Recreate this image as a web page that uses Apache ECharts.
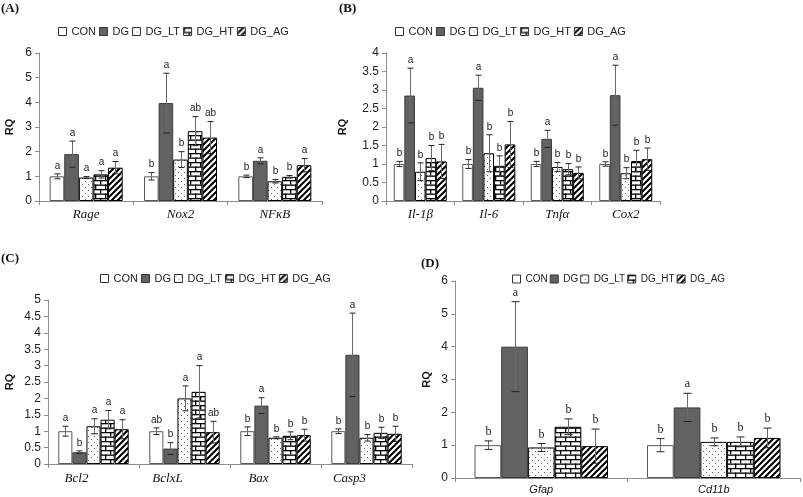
<!DOCTYPE html>
<html><head><meta charset="utf-8">
<script src="https://cdn.jsdelivr.net/npm/echarts@6/dist/echarts.min.js"></script>
<style>html,body{margin:0;padding:0;background:#fff}#c{width:803px;height:497px}</style>
</head><body><div id="c"></div>
<script>
// ---------- DATA ----------
const groups = ['CON','DG','DG_LT','DG_HT','DG_AG'];

const catsA = ['Rage','Nox2','NFκB'];
const meansA = [[1.0,1.0,1.0],[1.9,3.97,1.63],[0.95,1.68,0.8],[1.08,2.83,0.98],[1.35,2.57,1.45]];
const errA   = [[0.1,0.15,0.05],[0.53,1.21,0.12],[0.04,0.32,0.07],[0.15,0.59,0.05],[0.25,0.65,0.27]];
const lettersA = [['a','b','b'],['a','a','a'],['a','b','b'],['a','ab','b'],['a','ab','a']];
const ticksA = {max:6, interval:1};

const catsB = ['Il-1β','Il-6','Tnfα','Cox2'];
const meansB = [[1,1,1,1],[2.85,3.06,1.68,2.86],[0.79,1.29,0.92,0.75],[1.16,0.95,0.86,1.08],[1.07,1.53,0.76,1.13]];
const errB   = [[0.07,0.12,0.07,0.06],[0.74,0.34,0.23,0.81],[0.24,0.5,0.12,0.15],[0.34,0.27,0.15,0.29],[0.46,0.62,0.16,0.3]];
const lettersB = [['b','b','b','b'],['a','a','a','a'],['b','b','b','b'],['b','b','b','b'],['b','b','b','b']];
const ticksB = {max:4, interval:0.5};

const catsC = ['Bcl2','BclxL','Bax','Casp3'];
const meansC = [[1,1,1,1],[0.36,0.47,1.78,3.33],[1.15,2.0,0.8,0.8],[1.35,2.2,0.86,0.95],[1.06,0.97,0.88,0.92]];
const errC   = [[0.15,0.1,0.13,0.07],[0.04,0.18,0.24,1.27],[0.23,0.38,0.03,0.1],[0.28,0.8,0.12,0.17],[0.29,0.33,0.18,0.23]];
const lettersC = [['a','ab','b','b'],['b','b','a','a'],['a','a','b','b'],['a','a','b','b'],['a','ab','b','b']];
const ticksC = {max:5, interval:0.5};

const catsD = ['Gfap','Cd11b'];
const meansD = [[1,1],[4.0,2.15],[0.93,1.1],[1.56,1.1],[0.97,1.22]];
const errD   = [[0.13,0.2],[1.37,0.43],[0.12,0.12],[0.24,0.15],[0.52,0.3]];
const lettersD = [['b','b'],['a','a'],['b','b'],['b','b'],['b','b']];
const ticksD = {max:6, interval:1};

// ---------- PATTERNS ----------
function mk(w,h,draw){const c=document.createElement('canvas');c.width=w;c.height=h;const g=c.getContext('2d');g.fillStyle='#fff';g.fillRect(0,0,w,h);draw(g);return c;}
const dots = mk(6,6,g=>{g.fillStyle='#666';g.fillRect(1,1,1,1);g.fillRect(4,4,1,1);});
const brick = mk(10,9,g=>{g.fillStyle='#000';g.fillRect(0,0,10,1.3);g.fillRect(0,4.5,10,1.3);g.fillRect(0,0,1.3,4.5);g.fillRect(5,4.5,1.3,4.5);});
const stripes = mk(6,6,g=>{g.strokeStyle='#000';g.lineWidth=2;g.beginPath();
  g.moveTo(-1,7);g.lineTo(7,-1);g.moveTo(-4,4);g.lineTo(4,-4);g.moveTo(2,10);g.lineTo(10,2);g.stroke();});

const styles = [
  {color:'#ffffff', borderColor:'#595959', borderWidth:1},
  {color:'#626262', borderColor:'#3a3a3a', borderWidth:1},
  {color:{image:dots, repeat:'repeat'}, borderColor:'#000', borderWidth:1},
  {color:{image:brick, repeat:'repeat'}, borderColor:'#000', borderWidth:1},
  {color:{image:stripes, repeat:'repeat'}, borderColor:'#000', borderWidth:1}
];

const GAP = 0.226;
const panels = [
  {cats:catsA, means:meansA, err:errA, letters:lettersA, ticks:ticksA,
   grid:{left:39, top:53, width:283, height:148}, nameGap:24, legend:{left:58, top:26, fs:11, gap:3},
   xl:{fontFamily:'Liberation Serif', fontStyle:'italic', fontSize:13, margin:7}, shift:0,
   lf:{fontFamily:'Liberation Sans', fontSize:10}, cap:3},
  {cats:catsB, means:meansB, err:errB, letters:lettersB, ticks:ticksB,
   grid:{left:386, top:53, width:274, height:148}, nameGap:38, legend:{left:395, top:26, fs:11, gap:3},
   xl:{fontFamily:'Liberation Serif', fontStyle:'italic', fontSize:13, margin:7}, shift:0,
   lf:{fontFamily:'Liberation Sans', fontSize:10}, cap:3},
  {cats:catsC, means:meansC, err:errC, letters:lettersC, ticks:ticksC,
   grid:{left:48, top:300, width:364, height:164}, nameGap:33, legend:{left:100, top:273, fs:11, gap:3},
   xl:{fontFamily:'Liberation Serif', fontStyle:'italic', fontSize:13, margin:8}, shift:34,
   lf:{fontFamily:'Liberation Sans', fontSize:10}, cap:3},
  {cats:catsD, means:meansD, err:errD, letters:lettersD, ticks:ticksD,
   grid:{left:455, top:281, width:345, height:197}, nameGap:23, legend:{left:512, top:274, fs:10, gap:2},
   xl:{fontFamily:'Liberation Sans', fontStyle:'italic', fontSize:11, margin:6}, shift:0,
   lf:{fontFamily:'Liberation Serif', fontSize:12}, cap:4}
];

const option = {
  animation:false,
  title:[
    {text:'(A)', left:1, top:2},{text:'(B)', left:339, top:2},
    {text:'(C)', left:1, top:252},{text:'(D)', left:421, top:257}
  ].map(t=>Object.assign(t,{padding:0,textStyle:{fontFamily:'Liberation Serif',fontWeight:'bold',fontSize:13,color:'#111'}})),
  legend:[], grid:[], xAxis:[], yAxis:[], series:[]
};

panels.forEach((p,pi)=>{
  option.grid.push(Object.assign({containLabel:false}, p.grid));
  option.legend.push({data:groups, left:p.legend.left, top:p.legend.top, icon:'rect', itemWidth:8, itemHeight:8,
    itemGap:p.legend.gap, selectedMode:false, padding:0,
    textStyle:{fontFamily:'Liberation Sans', fontSize:p.legend.fs, color:'#222'},
    itemStyle:{borderColor:'#333', borderWidth:1}});
  const xl = {interval:0, color:'#111', fontFamily:p.xl.fontFamily, fontStyle:p.xl.fontStyle, fontSize:p.xl.fontSize, margin:p.xl.margin};
  if(p.shift){ xl.formatter = v=>'{s|'+v+'}'; xl.rich={s:{padding:[0,p.shift,0,0], fontFamily:p.xl.fontFamily, fontStyle:'italic', fontSize:p.xl.fontSize, color:'#111'}}; }
  option.xAxis.push({type:'category', gridIndex:pi, data:p.cats,
    axisLine:{show:true, lineStyle:{color:'#8c8c8c', width:1}},
    axisTick:{show:true, length:4, alignWithLabel:false, lineStyle:{color:'#8c8c8c'}},
    axisLabel:xl, splitLine:{show:false}});
  option.yAxis.push({type:'value', gridIndex:pi, min:0, max:p.ticks.max, interval:p.ticks.interval,
    name:'RQ', nameLocation:'middle', nameGap:p.nameGap, nameRotate:90,
    nameTextStyle:{fontFamily:'Liberation Sans', fontWeight:'bold', fontSize:11, color:'#111'},
    axisLine:{show:true, lineStyle:{color:'#8c8c8c', width:1}},
    axisTick:{show:true, length:4, lineStyle:{color:'#8c8c8c'}},
    axisLabel:{fontFamily:'Liberation Sans', fontSize:12, color:'#222', margin:7},
    splitLine:{show:false}});
  groups.forEach((g,gi)=>{
    option.series.push({type:'bar', name:g, xAxisIndex:pi, yAxisIndex:pi, data:p.means[gi],
      barGap:'0%', barCategoryGap:(GAP*100)+'%', itemStyle:styles[gi], z:2});
  });
  const errData = [], lbl = [];
  groups.forEach((g,gi)=>{
    p.cats.forEach((c,ci)=>{
      const m = p.means[gi][ci], e = p.err[gi][ci];
      errData.push([ci, m-e, m+e, gi]); lbl.push(p.letters[gi][ci]);
    });
  });
  option.series.push({type:'custom', name:'err'+pi, xAxisIndex:pi, yAxisIndex:pi, z:5,
    encode:{x:0, y:[1,2]}, data:errData, silent:true,
    renderItem:(params, api)=>{
      const ci = api.value(0), lo = api.value(1), hi = api.value(2), gi = api.value(3);
      const c0 = api.coord([ci, 0]);
      const bw = api.size([1, 0])[0];
      const barW = bw*(1-GAP)/5;
      const x = Math.round(c0[0] + (gi-2)*barW) + 0.5;
      const yLo = api.coord([ci, lo])[1], yHi = api.coord([ci, hi])[1];
      const cw = p.cap;
      return {type:'group', children:[
        {type:'line', shape:{x1:x, y1:yLo, x2:x, y2:yHi}, style:{stroke:'#6a6a6a', lineWidth:1}},
        {type:'line', shape:{x1:x-cw, y1:yHi, x2:x+cw, y2:yHi}, style:{stroke:'#222', lineWidth:1}},
        {type:'line', shape:{x1:x-cw, y1:yLo, x2:x+cw, y2:yLo}, style:{stroke:'#222', lineWidth:1}},
        {type:'text', x:x, y:yHi-3, style:{text:lbl[params.dataIndex], align:'center', verticalAlign:'bottom',
          fontFamily:p.lf.fontFamily, fontSize:p.lf.fontSize, fill:'#222'}}
      ]};
    }});
});

const chart = echarts.init(document.getElementById('c'), null, {renderer:'canvas'});
chart.setOption(option);
</script></body></html>
